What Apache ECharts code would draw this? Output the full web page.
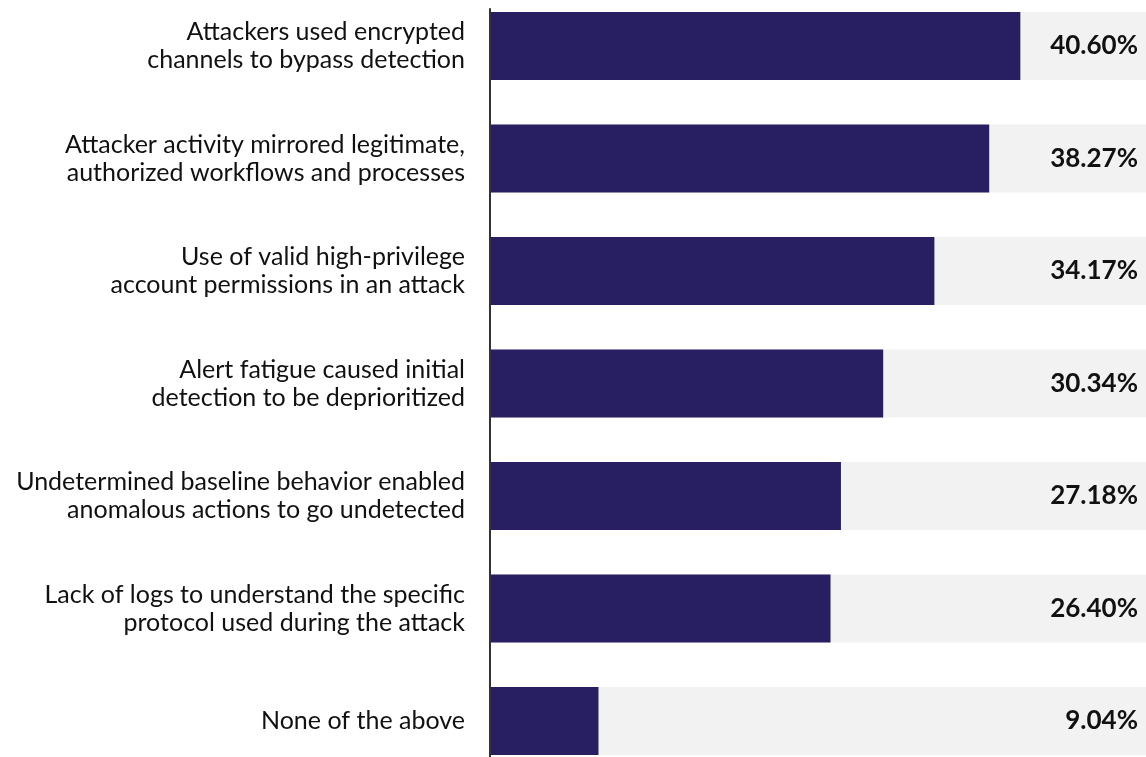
<!DOCTYPE html>
<html>
<head>
<meta charset="utf-8">
<script src="https://cdn.jsdelivr.net/npm/echarts@6/dist/echarts.min.js"></script>
<style>
  html, body { margin: 0; padding: 0; background: #fff; }
  #chart { width: 1146px; height: 757px; }
</style>
</head>
<body>
<div id="chart"></div>
<script>
const categories = [
  'Attackers used encrypted\nchannels to bypass detection',
  'Attacker activity mirrored legitimate,\nauthorized workflows and processes',
  'Use of valid high-privilege\naccount permissions in an attack',
  'Alert fatigue caused initial\ndetection to be deprioritized',
  'Undetermined baseline behavior enabled\nanomalous actions to go undetected',
  'Lack of logs to understand the specific\nprotocol used during the attack',
  'None of the above'
];
const values = [40.60, 38.27, 34.17, 30.34, 27.18, 26.40, 9.04];
const valueLabels = values.map(v => v.toFixed(2) + '%');

const FONT = 'Lato, "Noto Sans", sans-serif';

const chart = echarts.init(document.getElementById('chart'), null, { renderer: 'canvas' });

chart.setOption({
  animation: false,
  grid: [
    // category ticks sit on the bar centres (boundaryGap off)
    { left: 491, right: 0, top: 46, bottom: 36 },
    // only carries the visible vertical axis line
    { left: 490, width: 10, top: 9, bottom: 0 }
  ],
  xAxis: [
    { type: 'value', min: 1, max: 50, show: false },
    { type: 'value', gridIndex: 1, show: false }
  ],
  yAxis: [
    {
      type: 'category',
      data: categories,
      inverse: true,
      boundaryGap: false,
      axisLine: { show: false },
      axisTick: { show: false },
      axisLabel: {
        margin: 26,
        fontFamily: FONT,
        fontSize: 25,
        lineHeight: 28,
        padding: [14, 0, 0, 0],
        color: '#111',
        align: 'right'
      }
    },
    {
      type: 'category',
      data: valueLabels,
      inverse: true,
      boundaryGap: false,
      position: 'right',
      z: 10,
      axisLine: { show: false },
      axisTick: { show: false },
      axisLabel: {
        inside: true,
        margin: 8,
        fontFamily: FONT,
        fontSize: 26,
        fontWeight: 'bold',
        padding: [4, 0, 0, 0],
        color: '#111'
      }
    },
    {
      type: 'value',
      gridIndex: 1,
      position: 'left',
      axisLine: { show: true, lineStyle: { color: '#333', width: 2 } },
      axisTick: { show: false },
      axisLabel: { show: false },
      splitLine: { show: false }
    }
  ],
  series: [
    {
      type: 'bar',
      data: values,
      barWidth: 68,
      itemStyle: { color: '#271f61' },
      showBackground: true,
      backgroundStyle: { color: '#f2f2f2' }
    }
  ]
});
</script>
</body>
</html>
